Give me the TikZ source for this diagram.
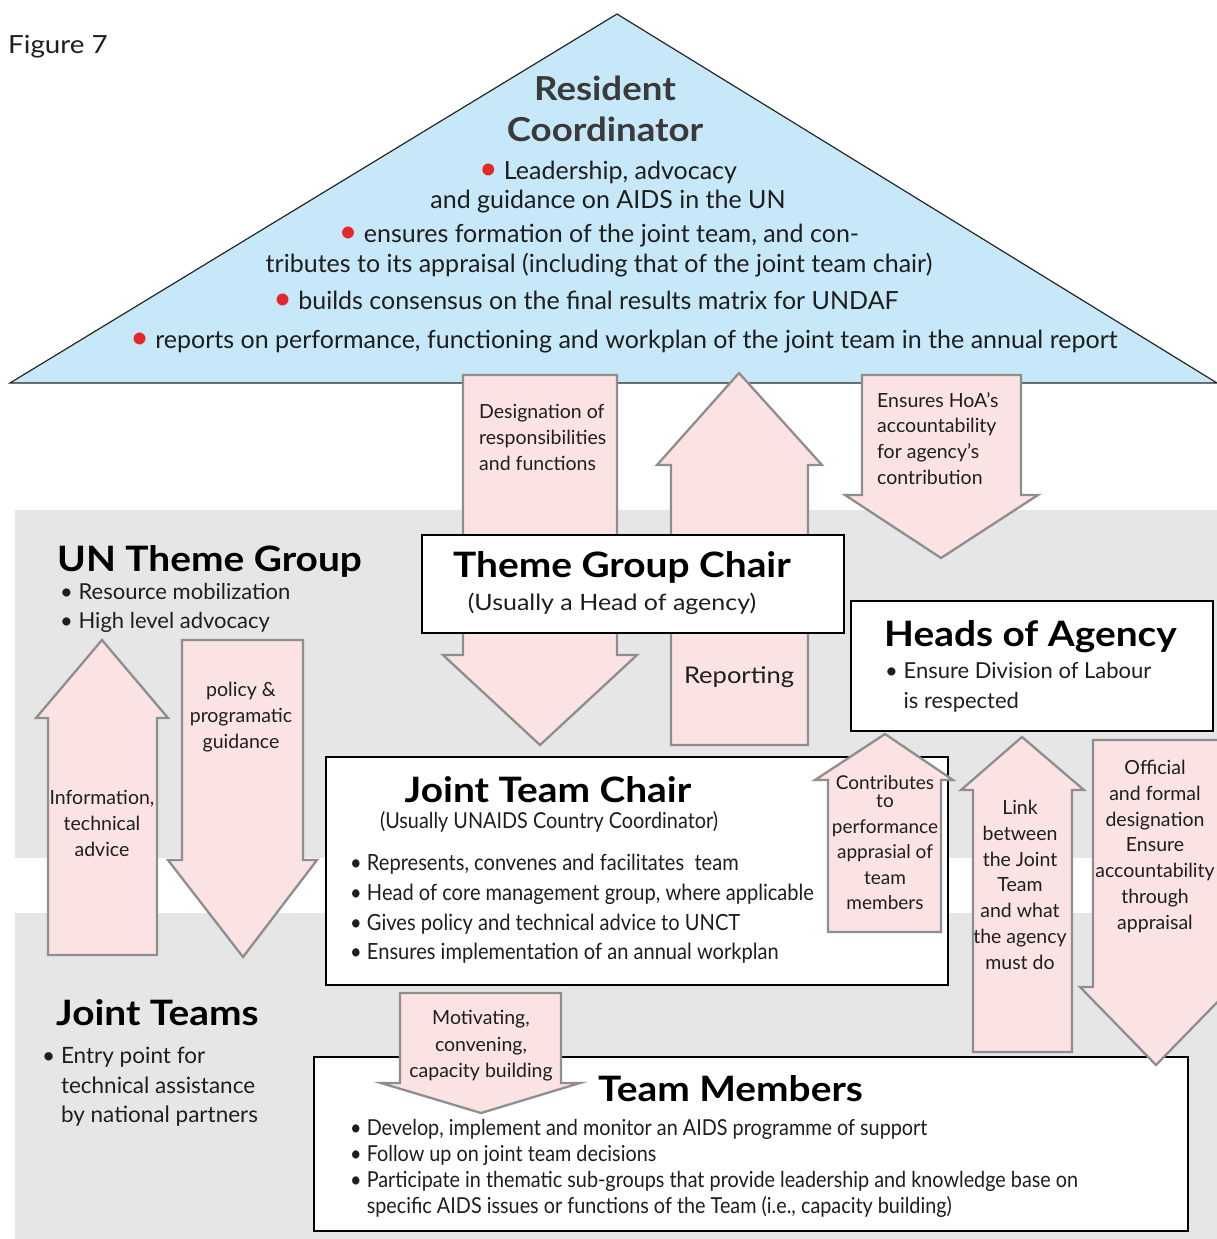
\documentclass[tikz,border=0pt]{standalone}
\usepackage{fontspec}
\setmainfont{Lato}
\newfontfamily\widefont[FakeStretch=1.11]{Lato}
\newfontfamily\narrowfont[FakeStretch=0.9]{Lato}
\usepackage{xcolor}
\usetikzlibrary{positioning}
\definecolor{rcblue}{HTML}{C7E8F8}
\definecolor{arrowpink}{HTML}{FBE3E3}
\definecolor{arrowgray}{HTML}{8E8E8E}
\definecolor{bandgray}{HTML}{E6E6E6}
\definecolor{bulletred}{HTML}{E5262A}
\definecolor{rcgray}{HTML}{3A3A3A}
\definecolor{textblack}{HTML}{1E1E1E}

\begin{document}
\begin{tikzpicture}
    [
    x=1pt, y=-1pt,
    band/.style={
        fill=bandgray,
        draw=none
    },
    box/.style={
        rectangle,
        draw=black,
        fill=white,
        line width=1.3pt,
        inner sep=0pt,
        outer sep=0pt,
        anchor=north west
    },
    blockarrow/.style={
        draw=arrowgray,
        fill=arrowpink,
        line width=2.3pt,
        line join=miter
    },
    title/.style={
        font=\widefont\fontsize{35}{40}\selectfont\bfseries,
        text=black,
        inner sep=0pt,
        anchor=base west
    },
    plain/.style={
        text=textblack,
        inner sep=0pt
    },
    arrowlabel/.style={
        plain,
        font=\fontsize{19.5}{25.8}\selectfont,
        align=center,
        anchor=north
    }
    ]
    \useasboundingbox (0,0) rectangle (1217,1239);

    % grey bands behind the country level
    \fill[band] (15,510) rectangle (1217,858);
    \fill[band] (15,913) rectangle (1217,1239);

    % Resident Coordinator roof
    \draw[fill=rcblue, draw=black!85, line width=1.2pt, line join=miter]
        (10,383) -- (617,14) -- (1217,383) -- cycle;

    % arrows between roof and theme group chair
    \draw[blockarrow] (463,375) -- (463,655) -- (443,655) -- (540,745) -- (637,655) -- (617,655) -- (617,375) -- cycle;
    \draw[blockarrow] (671,745) -- (671,465) -- (657,465) -- (739,373) -- (822,465) -- (808,465) -- (808,745) -- cycle;
    \draw[blockarrow] (862,375) -- (862,495) -- (845,495) -- (941,558) -- (1038,495) -- (1021,495) -- (1021,375) -- cycle;

    % boxes
    \node[box, minimum width=422pt, minimum height=98pt] (tgcbox) at (422,535) {};
    \node[box, minimum width=362pt, minimum height=130pt] (hoabox) at (851,601) {};
    \node[box, minimum width=622pt, minimum height=228pt] (jtcbox) at (326,757) {};
    \node[box, minimum width=874pt, minimum height=174pt] (tmbox) at (314,1057) {};

    % arrows in the grey part
    \draw[blockarrow] (48,955) -- (48,718) -- (36,718) -- (102,640) -- (168,718) -- (157,718) -- (157,955) -- cycle;
    \draw[blockarrow] (182,640) -- (182,860) -- (168,860) -- (243,957) -- (317,860) -- (303,860) -- (303,640) -- cycle;
    \draw[blockarrow] (400,993) -- (400,1083) -- (381,1083) -- (481,1113) -- (580,1083) -- (561,1083) -- (561,993) -- cycle;
    \draw[blockarrow] (828,932) -- (828,780) -- (815,780) -- (885,734) -- (953,780) -- (941,780) -- (941,932) -- cycle;
    \draw[blockarrow] (973,1052) -- (973,790) -- (961,790) -- (1022,737) -- (1084,790) -- (1072,790) -- (1072,1052) -- cycle;
    \draw[blockarrow] (1093,740) -- (1093,987) -- (1080,987) -- (1156,1065) -- (1232,987) -- (1219,987) -- (1219,740) -- cycle;

    % figure number
    \node[plain, anchor=base west, font=\widefont\fontsize{25}{30}\selectfont] (fignum) at (8,54) {Figure 7};

    % roof text
    \node[plain, anchor=north, font=\widefont\fontsize{33}{41}\selectfont\bfseries, text=rcgray, align=center] (rctitle) at (605,76) {Resident\\Coordinator};
    \node[plain, anchor=north, font=\fontsize{25}{29}\selectfont, align=center] (rc1) at (608,161)
        {{\color{bulletred}\fontsize{32}{29}\selectfont•}\ Leadership, advocacy\\and guidance on AIDS in the UN};
    \node[plain, anchor=north, font=\fontsize{25}{30}\selectfont, align=center] (rc2) at (599,224)
        {{\color{bulletred}\fontsize{32}{30}\selectfont•}\ ensures formation of the joint team, and con-\\tributes to its appraisal (including that of the joint team chair)};
    \node[plain, anchor=base, font=\fontsize{25}{30}\selectfont] (rc3) at (586,309)
        {{\color{bulletred}\fontsize{32}{30}\selectfont•}\ builds consensus on the final results matrix for UNDAF};
    \node[plain, anchor=base, font=\fontsize{25}{30}\selectfont] (rc4) at (624,348)
        {{\color{bulletred}\fontsize{32}{30}\selectfont•}\ reports on performance, functioning and workplan of the joint team in the annual report};

    % arrow labels
    \node[arrowlabel, align=left, anchor=north west] (designlbl) at (479,404) {Designation of\\responsibilities\\and functions};
    \node[plain, anchor=base, font=\widefont\fontsize{23}{28}\selectfont] (reportlbl) at (739,683) {Reporting};
    \node[arrowlabel, align=left, anchor=north west] (ensurelbl) at (877,392) {Ensures HoA’s\\accountability\\for agency’s\\contribution};
    \node[arrowlabel] (infolbl) at (102,790) {Information,\\technical\\advice};
    \node[arrowlabel] (policylbl) at (241,682) {policy \&\\programatic\\guidance};
    \node[arrowlabel, font=\fontsize{19.5}{26.5}\selectfont] (motivlbl) at (481,1010) {Motivating,\\convening,\\capacity building};
    \node[arrowlabel, font=\fontsize{19}{25.5}\selectfont] (contriblbl) at (885,775) {Contributes\\[-7pt]to\\performance\\apprasial of\\team\\members};
    \node[arrowlabel] (linklbl) at (1020,800) {Link\\between\\the Joint\\Team\\and what\\the agency\\must do};
    \node[arrowlabel] (officiallbl) at (1155,760) {Official\\and formal\\designation\\Ensure\\accountability\\through\\appraisal};

    % UN Theme Group
    \node[title] (untg) at (57,571) {UN Theme Group};
    \node[plain, anchor=north west, align=left, font=\fontsize{22}{29}\selectfont] (untglist) at (60,583)
        {•\ Resource mobilization\\•\ High level advocacy};

    % Theme Group Chair
    \node[title, anchor=base] (tgc) at (622,577) {Theme Group Chair};
    \node[plain, anchor=base, font=\widefont\fontsize{22.5}{28}\selectfont] (tgcsub) at (612,610) {(Usually a Head of agency)};

    % Heads of Agency
    \node[title] (hoa) at (884,646) {Heads of Agency};
    \node[plain, anchor=north west, align=left, font=\fontsize{22}{30}\selectfont] (hoalist) at (885,662)
        {•\ Ensure Division of Labour\\\phantom{•\ }is respected};

    % Joint Team Chair
    \node[title, anchor=base] (jtc) at (548,802) {Joint Team Chair};
    \node[plain, anchor=base, font=\narrowfont\fontsize{22}{26}\selectfont] (jtcsub) at (549,828) {(Usually UNAIDS Country Coordinator)};
    \node[plain, anchor=north west, align=left, font=\narrowfont\fontsize{22.3}{29.7}\selectfont] (jtclist) at (350,854)
        {•\ Represents, convenes and facilitates\ \ team\\
         •\ Head of core management group, where applicable\\
         •\ Gives policy and technical advice to UNCT\\
         •\ Ensures implementation of an annual workplan};

    % Joint Teams
    \node[title] (jteams) at (56,1025) {Joint Teams};
    \node[plain, anchor=north west, align=left, font=\fontsize{22.5}{29.5}\selectfont] (jteamslist) at (42,1047)
        {•\ Entry point for\\\phantom{•\ }technical assistance\\\phantom{•\ }by national partners};

    % Team Members
    \node[title] (tm) at (598,1101) {Team Members};
    \node[plain, anchor=north west, align=left, font=\narrowfont\fontsize{22}{26}\selectfont] (tmlist) at (350,1119)
        {•\ Develop, implement and monitor an AIDS programme of support\\
         •\ Follow up on joint team decisions\\
         •\ Participate in thematic sub-groups that provide leadership and knowledge base on\\
         \phantom{•\ }specific AIDS issues or functions of the Team (i.e., capacity building)};

\end{tikzpicture}
\end{document}
